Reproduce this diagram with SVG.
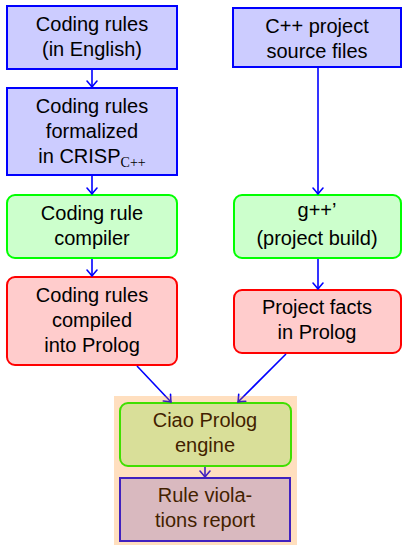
<svg xmlns="http://www.w3.org/2000/svg" width="402" height="545" viewBox="0 0 402 545">
<style>
text{font-family:"Liberation Sans",Arial,sans-serif;font-size:20px;fill:#000;text-anchor:middle}
.sub{font-family:"Liberation Serif","Times New Roman",serif;font-size:14px}
.blue{fill:#ccccff;stroke:#0000ff;stroke-width:2}
.green{fill:#ccffcc;stroke:#00ff00;stroke-width:2}
.red{fill:#ffcccc;stroke:#ff0000;stroke-width:2}
.conn line{stroke:#0000ff;stroke-width:1.6;marker-end:url(#arr)}
</style>
<defs>
<marker id="arr" markerUnits="userSpaceOnUse" markerWidth="14" markerHeight="14" viewBox="-8 -7 10 14" refX="0" refY="0" orient="auto">
<path d="M-6,-5 Q-2,-1.5 0,0 Q-2,1.5 -6,5" fill="none" stroke="#0000ff" stroke-width="1.6" stroke-linecap="round"/>
</marker>
</defs>
<g id="n1"><rect class="blue" x="7" y="6" width="170" height="63"/><text x="92" y="31">Coding rules</text><text x="92" y="56">(in English)</text></g>
<g id="n2"><rect class="blue" x="7" y="88" width="170" height="87"/><text x="92" y="113">Coding rules</text><text x="92" y="138">formalized</text><text x="92" y="163">in CRISP<tspan class="sub" dy="4">C++</tspan></text></g>
<g id="n3"><rect class="green" x="7" y="195" width="170" height="63" rx="8"/><text x="92" y="220">Coding rule</text><text x="92" y="245">compiler</text></g>
<g id="n4"><rect class="red" x="7" y="277" width="170" height="88" rx="8"/><text x="92" y="302">Coding rules</text><text x="92" y="327">compiled</text><text x="92" y="352">into Prolog</text></g>
<g id="n5"><rect class="blue" x="233" y="8" width="168" height="59"/><text x="317" y="33">C++ project</text><text x="317" y="58">source files</text></g>
<g id="n6"><rect class="green" x="234" y="195" width="167" height="63" rx="8"/><text x="317" y="217">g++’</text><text x="317" y="245">(project build)</text></g>
<g id="n7"><rect class="red" x="234" y="290" width="167" height="63" rx="8"/><text x="317" y="314">Project facts</text><text x="317" y="339">in Prolog</text></g>
<g id="n8"><rect class="green" x="120" y="403" width="171" height="63" rx="8"/><text x="205" y="427">Ciao Prolog</text><text x="205" y="452">engine</text></g>
<g id="n9"><rect class="blue" x="120" y="478" width="170" height="63"/><text x="205" y="502">Rule viola-</text><text x="205" y="527">tions report</text></g>
<g class="conn" id="connectors">
<line x1="92" y1="70" x2="92" y2="87"/>
<line x1="92" y1="176" x2="92" y2="194"/>
<line x1="92" y1="259" x2="92" y2="276"/>
<line x1="318" y1="68" x2="318" y2="194"/>
<line x1="318" y1="259" x2="318" y2="289"/>
<line x1="137" y1="366" x2="171" y2="402"/>
<line x1="286" y1="354" x2="238" y2="402"/>
<line x1="205" y1="467" x2="205" y2="477"/>
</g>
<rect id="overlay" x="114" y="396" width="183" height="149" fill="#ff8000" opacity="0.25"/>
</svg>
